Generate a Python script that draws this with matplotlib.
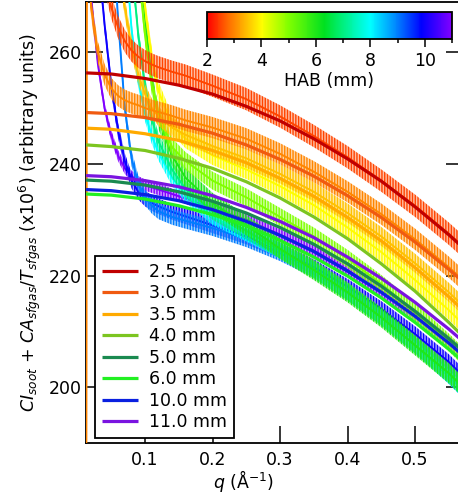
import matplotlib
matplotlib.use('Agg')
import matplotlib.pyplot as plt
from matplotlib.colors import LinearSegmentedColormap, Normalize
from matplotlib.cm import ScalarMappable

plt.rcParams['font.family'] = ['DejaVu Sans']
plt.rcParams['mathtext.fontset'] = 'dejavusans'
plt.rcParams['hatch.linewidth'] = 1.0

# measured curves (q grid shared by all data sets)
q_data = [0.0127, 0.014, 0.02, 0.03, 0.04, 0.05, 0.06, 0.07, 0.08, 0.09, 0.10, 0.11,
          0.12, 0.14, 0.16, 0.20, 0.25, 0.30, 0.35, 0.40, 0.45, 0.50, 0.55, 0.571]

d25 = [300, 300, 290, 280, 273, 268, 264.5, 262, 260.3, 259.2, 258.4, 257.8,
       257.3, 256.5, 255.8, 254.0, 251.6, 248.5, 245.0, 241.2, 237.0, 232.5, 227.5, 225.2]
d30 = [150, 290, 268, 260, 256, 253.5, 252.2, 251.4, 250.9, 250.5, 250, 249.6,
       249.3, 248.6, 247.8, 246.5, 244.5, 241.8, 238.6, 235.0, 231.0, 226.5, 221.5, 219.2]
d35 = [330, 330, 320, 308, 297, 287, 277, 268, 261, 256, 252.5, 250,
       248.5, 246.5, 245.2, 243.2, 241.0, 238.2, 235.0, 231.2, 227.0, 222.2, 217.0, 214.6]
d40 = [340, 340, 340, 340, 335, 325, 312, 300, 290, 280, 268, 259,
       253, 247, 244.5, 241.5, 239.0, 236.0, 232.6, 228.6, 224.2, 219.2, 213.8, 211.3]
d50 = [340, 340, 340, 340, 340, 335, 325, 310, 290, 275, 263, 254,
       249, 243, 240.5, 237.0, 234.0, 230.5, 227.0, 223.0, 218.5, 213.5, 208.0, 205.5]
d60 = [340, 340, 340, 340, 340, 340, 335, 320, 300, 282, 266, 255,
       248, 241.5, 237.5, 233.0, 229.0, 224.8, 221.0, 217.0, 212.5, 207.5, 202.5, 200.0]
d70 = [340, 340, 340, 340, 340, 330, 315, 295, 276, 263, 254, 248,
       244, 239, 235.5, 231.5, 228.0, 224.5, 221.0, 217.0, 212.5, 207.5, 202.5, 200.0]
d80 = [340, 340, 340, 340, 330, 315, 298, 280, 264, 255, 249, 245,
       242, 237.5, 234.5, 230.5, 227.5, 224.5, 221.0, 217.0, 212.5, 207.5, 202.0, 199.5]
d90 = [340, 340, 340, 330, 305, 285, 266, 250, 241, 236.5, 234.0, 232.5,
       231.5, 230.5, 229.8, 228.5, 226.5, 224.0, 221.0, 217.0, 212.5, 207.5, 202.0, 199.5]
d100 = [300, 300, 292, 278, 265, 254, 246, 240.5, 237, 235, 233.8, 233.0,
        232.4, 231.4, 230.6, 229.0, 227.0, 224.5, 221.5, 218.0, 214.0, 209.5, 204.5, 202.0]
d110 = [300, 290, 270, 258, 250, 245, 241.5, 239.2, 237.8, 236.8, 236.2, 235.8,
        235.4, 234.6, 233.8, 232.0, 230.0, 227.3, 224.5, 221.0, 217.2, 213.0, 208.2, 206.0]

# HAB of each data set, drawn from the highest up, and the noise half width
hab_data = [11.0, 10.0, 9.0, 8.0, 7.0, 6.0, 5.0, 4.0, 3.5, 3.0, 2.5]
curves = [d110, d100, d90, d80, d70, d60, d50, d40, d35, d30, d25]
noise = [1.0, 1.4, 1.4, 1.4, 1.5, 1.8, 1.6, 1.7, 1.7, 1.9, 2.0]

# fits
q_fit = [0.0127, 0.05, 0.10, 0.15, 0.20, 0.25, 0.30, 0.35, 0.40, 0.45, 0.50, 0.55, 0.571]
f25 = [256.3, 256.1, 255.3, 254.1, 252.5, 250.3, 247.7, 244.5, 240.9, 236.9, 232.3, 227.3, 225.0]
f30 = [249.2, 249.0, 248.3, 247.1, 245.5, 243.4, 240.8, 237.8, 234.3, 230.4, 226.0, 221.1, 218.9]
f35 = [246.4, 246.2, 245.4, 244.2, 242.4, 240.2, 237.4, 234.2, 230.4, 226.2, 221.4, 216.2, 213.8]
f40 = [243.4, 243.1, 242.4, 241.0, 239.2, 236.8, 233.9, 230.5, 226.6, 222.1, 217.2, 211.6, 209.1]
f50 = [237.1, 236.9, 236.2, 235.0, 233.3, 231.2, 228.6, 225.6, 222.1, 218.1, 213.6, 208.7, 206.5]
f60 = [234.6, 234.4, 233.7, 232.5, 230.9, 228.9, 226.3, 223.3, 219.9, 216.0, 211.6, 206.8, 204.6]
f100 = [235.4, 235.2, 234.5, 233.4, 231.8, 229.7, 227.2, 224.3, 220.8, 217.0, 212.7, 207.9, 205.7]
f110 = [237.9, 237.7, 237.0, 235.9, 234.3, 232.2, 229.7, 226.8, 223.3, 219.5, 215.2, 210.4, 208.2]

fit_labels = ['2.5 mm', '3.0 mm', '3.5 mm', '4.0 mm', '5.0 mm', '6.0 mm', '10.0 mm', '11.0 mm']
fits = [f25, f30, f35, f40, f50, f60, f100, f110]
fit_colors = ['#c00000', '#f05a10', '#ffaa00', '#7cc520', '#1a8a50', '#22f022', '#0a20e0', '#7a14e0']

cmap = LinearSegmentedColormap.from_list('hab', [
    (0.0, '#ff0000'), (0.8/9, '#ff7000'), (2/9, '#ffff00'), (3/9, '#80ff00'),
    (4.3/9, '#00e020'), (5/9, '#00f080'), (6/9, '#00ffff'), (7/9, '#0080ff'),
    (7.9/9, '#0000ff'), (1.0, '#8000ff')])
norm = Normalize(2, 11)

fig = plt.figure(figsize=(4.58, 5.01), dpi=100)
ax = fig.add_axes([86/458, 58/501, 377/458, 441/501])

# noisy data: a light band with vertical hatching for the spikes
for hab, y, w in zip(hab_data, curves, noise):
    c = cmap(norm(hab))
    lo = [v - w for v in y]
    hi = [v + w for v in y]
    ax.fill_between(q_data, lo, hi, facecolor=c, alpha=0.35, lw=0, zorder=3)
    ax.fill_between(q_data, lo, hi, facecolor='none', edgecolor=c, hatch='||||||',
                    lw=0, zorder=3)
    ax.plot(q_data, y, color=c, lw=1.4, zorder=3)

for y, lab, c in zip(fits, fit_labels, fit_colors):
    ax.plot(q_fit, y, color=c, lw=2.3, label=lab, zorder=4, solid_capstyle='butt')

ax.set_xlim(0.0125, 0.571)
ax.set_ylim(190, 269)
ax.set_xticks([0.1, 0.2, 0.3, 0.4, 0.5])
ax.set_xticklabels(['0.1', '0.2', '0.3', '0.4', '0.5'])
ax.set_yticks([200, 220, 240, 260])
ax.tick_params(direction='in', length=12, width=1.1, top=False, right=True, labelsize=12.5)
ax.tick_params(axis='x', pad=6)
ax.tick_params(axis='y', pad=3)
for s in ax.spines.values():
    s.set_linewidth(1.3)

ax.set_xlabel(r'$q$ (Å$^{-1}$)', fontsize=12.5)
ax.xaxis.set_label_coords(0.419, -0.056)
ax.set_ylabel(r'$CI_{soot}$ + $CA_{sfgas}/T_{sfgas}$ (x10$^{6}$) (arbitrary units)', fontsize=12.5)
ax.yaxis.set_label_coords(-0.115, 0.5)

leg = ax.legend(loc='lower left', bbox_to_anchor=(0.024, 0.011), borderaxespad=0,
                fontsize=12.5, handlelength=2.1, labelspacing=0.2, fancybox=False,
                framealpha=1, edgecolor='black', borderpad=0.4, handletextpad=0.6)
leg.get_frame().set_linewidth(1.3)

cax = fig.add_axes([207/458, 462/501, 245/458, 27/501])
cb = fig.colorbar(ScalarMappable(norm=norm, cmap=cmap), cax=cax, orientation='horizontal')
cb.set_ticks([2, 4, 6, 8, 10])
cb.ax.set_xticks([3, 5, 7, 9, 11], minor=True)
cb.ax.tick_params(which='major', length=6, width=1.1, labelsize=12.5, pad=3)
cb.ax.tick_params(which='minor', length=3, width=1.1)
cb.outline.set_linewidth(1.3)
cb.set_label('HAB (mm)', fontsize=12.5, labelpad=2)

fig.savefig('out.png', dpi=100)
